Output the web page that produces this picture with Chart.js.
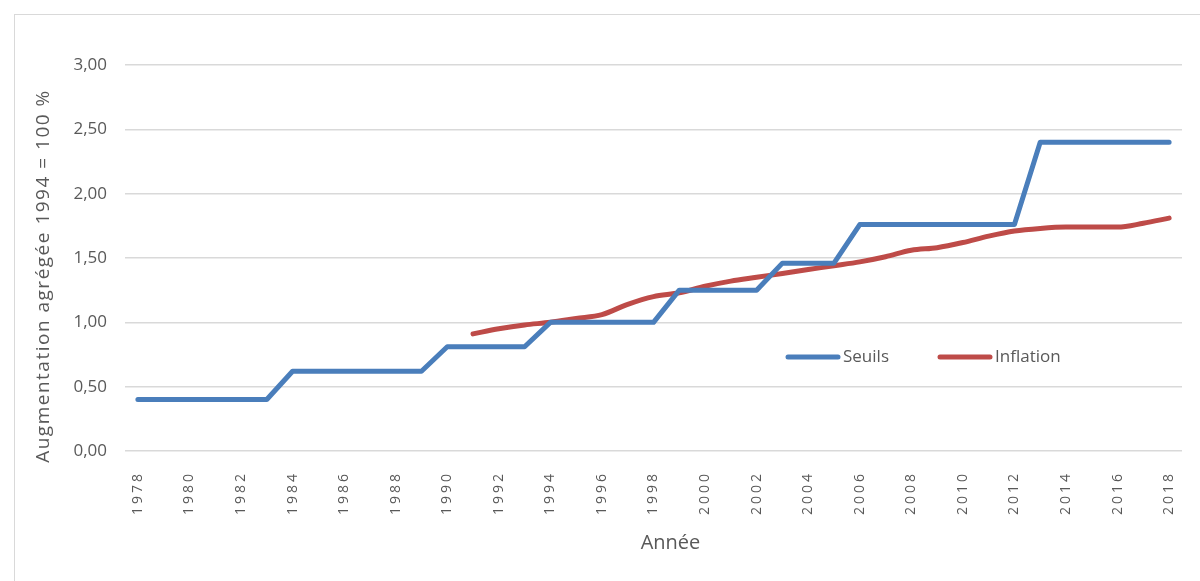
<!DOCTYPE html>
<html><head><meta charset="utf-8">
<script src="https://cdn.jsdelivr.net/npm/chart.js@4/dist/chart.umd.min.js"></script>
<style>
html,body{margin:0;padding:0;background:#fff;}
#wrap{position:absolute;left:0;top:0;width:1200px;height:581px;}
#frame{position:absolute;left:14px;top:14px;width:1200px;height:600px;border-left:1px solid #d9d9d9;border-top:1px solid #d9d9d9;}
canvas{position:absolute;left:0;top:0;}
</style></head>
<body><div id="wrap"><div id="frame"></div><canvas id="c" width="1200" height="581"></canvas></div>
<script>
const years = [1978,1979,1980,1981,1982,1983,1984,1985,1986,1987,1988,1989,1990,1991,1992,1993,1994,1995,1996,1997,1998,1999,2000,2001,2002,2003,2004,2005,2006,2007,2008,2009,2010,2011,2012,2013,2014,2015,2016,2017,2018];
const seuils = [0.40,0.40,0.40,0.40,0.40,0.40,0.62,0.62,0.62,0.62,0.62,0.62,0.81,0.81,0.81,0.81,1.00,1.00,1.00,1.00,1.00,1.25,1.25,1.25,1.25,1.46,1.46,1.46,1.76,1.76,1.76,1.76,1.76,1.76,1.76,2.40,2.40,2.40,2.40,2.40,2.40];
const inflation = [null,null,null,null,null,null,null,null,null,null,null,null,null,0.91,0.95,0.98,1.00,1.03,1.06,1.14,1.20,1.23,1.28,1.32,1.35,1.38,1.41,1.44,1.47,1.51,1.56,1.58,1.62,1.67,1.71,1.73,1.74,1.74,1.74,1.77,1.81];
const yTicks = [0,0.5,1,1.5,2,2.5,3];
const seriesNames = ['Seuils','Inflation'];
const colors = ['#4a7ebb','#be4b48'];
const txt = '#595959';
const font = '"Open Sans", "Liberation Sans", sans-serif';

const legendPlugin = {
  id:'inlineLegend',
  afterDraw(chart){
    const ctx = chart.ctx;
    const items = [{x:788,label:seriesNames[0],c:colors[0]},{x:940,label:seriesNames[1],c:colors[1]}];
    const y = 357;
    ctx.save();
    ctx.font = '17px ' + font;
    ctx.textBaseline = 'middle';
    items.forEach(it=>{
      ctx.strokeStyle = it.c; ctx.lineWidth = 5; ctx.lineCap='round';
      ctx.beginPath(); ctx.moveTo(it.x, y); ctx.lineTo(it.x+50, y); ctx.stroke();
      ctx.fillStyle = txt; ctx.fillText(it.label, it.x+55, y);
    });
    ctx.restore();
  }
};

function patchScale(s, labelSpacing, titleSpacing, dx, dy){
  if(s._patched) return;
  const oL = s.drawLabels.bind(s);
  s.drawLabels = function(ca){ const c=this.ctx; c.save(); c.letterSpacing = labelSpacing; oL(ca); c.restore(); };
  const oT = s.drawTitle.bind(s);
  s.drawTitle = function(){ const c=this.ctx; c.save(); c.letterSpacing = titleSpacing; c.translate(dx,dy); oT(); c.restore(); };
  s._patched = true;
}

new Chart(document.getElementById('c'), {
  type:'line',
  data:{
    labels: years.map(String),
    datasets:[
      {label:seriesNames[0], data:seuils, borderColor:colors[0], borderWidth:5, pointRadius:0, tension:0, borderCapStyle:'round', borderJoinStyle:'round'},
      {label:seriesNames[1], data:inflation, borderColor:colors[1], borderWidth:5, pointRadius:0, tension:0.3, cubicInterpolationMode:'monotone', borderCapStyle:'round', borderJoinStyle:'round'}
    ]
  },
  options:{
    responsive:false, animation:false,
    layout:{padding:{left:30,top:65,right:18,bottom:26}},
    plugins:{legend:{display:false}, tooltip:{enabled:false}},
    scales:{
      x:{
        offset:true,
        grid:{display:false},
        border:{display:false},
        ticks:{autoSkip:false, minRotation:90, maxRotation:90, padding:12, color:txt, font:{family:font,size:14},
          callback:function(v,i){ return i%2===0 ? this.getLabelForValue(v) : ''; }},
        title:{display:true, text:'Année', color:txt, font:{family:font,size:20}, padding:{top:4,bottom:4}},
        afterFit(s){ s.height = 104; patchScale(s,'3px','0px',17,4); }
      },
      y:{
        min:0, max:3,
        afterBuildTicks(s){ s.ticks = yTicks.map(v=>({value:v})); },
        grid:{color:'#d9d9d9', lineWidth:1.5, drawTicks:false},
        border:{display:false},
        ticks:{padding:18, color:txt, font:{family:font,size:17},
          callback:v=>v.toFixed(2).replace('.',',')},
        title:{display:true, text:'Augmentation agrégée 1994 = 100 %', color:txt, font:{family:font,size:19}, padding:{top:2,bottom:4}},
        afterFit(s){ s.width = 95; patchScale(s,'0px','1.5px',0,18); }
      }
    }
  },
  plugins:[legendPlugin]
});
</script></body></html>
